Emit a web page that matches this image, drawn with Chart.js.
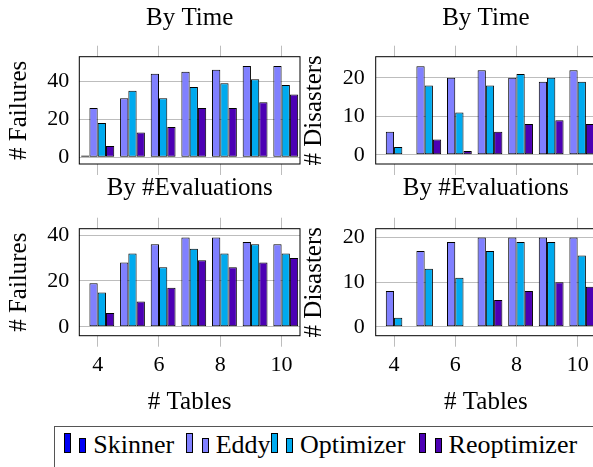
<!DOCTYPE html>
<html>
<head>
<meta charset="utf-8">
<script src="https://cdn.jsdelivr.net/npm/chart.js@4.4.1/dist/chart.umd.min.js"></script>
<style>
html, body { margin: 0; padding: 0; background: #fff; overflow: hidden; }
#wrap { position: relative; width: 593px; height: 467px; overflow: hidden; font-family: "Liberation Serif", serif; }
#wrap canvas { position: absolute; }
#legend { position: absolute; left: 54px; top: 425.7px; width: 600px; height: 60px;
  border-top: 1px solid #555; border-left: 1px solid #555; }
.entry { position: absolute; top: 0.8px; font-size: 26px; line-height: 36px; white-space: nowrap; color: #000; }
.ico { display: inline-block; box-sizing: border-box; width: 7px; border: 1px solid #000; vertical-align: baseline; }
.ico.big { height: 20px; margin-right: 8.3px; }
.ico.small { height: 15.6px; margin-right: 7px; }
</style>
</head>
<body>
<div id="wrap">
  <canvas id="c-tl" width="302" height="180" style="left:0;top:0"></canvas>
  <canvas id="c-tr" width="302" height="180" style="left:296px;top:0"></canvas>
  <canvas id="c-bl" width="302" height="245" style="left:0;top:172px"></canvas>
  <canvas id="c-br" width="302" height="245" style="left:296px;top:172px"></canvas>
  <div id="legend"></div>
</div>
<script>
// data
const TABLES = [4, 5, 6, 7, 8, 9, 10];
const X_TICKS = [4, 6, 8, 10];
const FAIL_TICKS = [0, 20, 40];
const DIS_TICKS = [0, 10, 20];
const SERIES = ['Skinner', 'Eddy', 'Optimizer', 'Reoptimizer'];

// by time, # failures
const TIME_FAIL_SKINNER = [1, 0, 0, 0, 0, 0, 0];
const TIME_FAIL_EDDY    = [26, 31, 44, 45, 46, 48, 48];
const TIME_FAIL_OPT     = [18, 35, 31, 37, 39, 41, 38];
const TIME_FAIL_REOPT   = [6, 13, 16, 26, 26, 29, 33];
// by time, # disasters
const TIME_DIS_SKINNER = [0, 0, 0, 0, 0, 0, 0];
const TIME_DIS_EDDY    = [6, 23, 20, 22, 20, 19, 22];
const TIME_DIS_OPT     = [2, 18, 11, 18, 21, 20, 19];
const TIME_DIS_REOPT   = [0, 4, 1, 6, 8, 9, 8];
// by #evaluations, # failures
const EVAL_FAIL_SKINNER = [0, 0, 0, 0, 0, 0, 0];
const EVAL_FAIL_EDDY    = [19, 28, 36, 39, 39, 37, 36];
const EVAL_FAIL_OPT     = [15, 32, 26, 34, 32, 36, 32];
const EVAL_FAIL_REOPT   = [6, 11, 17, 29, 26, 28, 30];
// by #evaluations, # disasters
const EVAL_DIS_SKINNER = [0, 0, 0, 0, 0, 0, 0];
const EVAL_DIS_EDDY    = [8, 17, 19, 20, 20, 20, 20];
const EVAL_DIS_OPT     = [2, 13, 11, 17, 19, 19, 16];
const EVAL_DIS_REOPT   = [0, 0, 0, 6, 8, 10, 9];

const COLORS = ['#0000f5', '#8080ff', '#00aaee', '#4c00b4'];
const GRID = '#bdbdbd';

Chart.defaults.font.family = '"Liberation Serif", serif';
Chart.defaults.color = '#000';

const frame = {
  id: 'frame',
  afterDatasetsDraw(chart) {
    const { ctx, chartArea: a } = chart;
    ctx.save();
    ctx.strokeStyle = '#000';
    ctx.lineWidth = 1;
    ctx.strokeRect(a.left, a.top, a.right - a.left, a.bottom - a.top);
    ctx.restore();
  }
};

function setTicks(list) {
  return s => { s.ticks = list.map(v => ({ value: v })); };
}

function makeChart(id, c) {
  return new Chart(document.getElementById(id), {
    type: 'bar',
    data: {
      datasets: SERIES.map((name, k) => ({
        label: name,
        data: TABLES.map((t, i) => ({ x: t, y: c.values[k][i] })),
        backgroundColor: COLORS[k],
        borderColor: '#000',
        borderWidth: 1,
        borderSkipped: false,
        inflateAmount: 0,
        categoryPercentage: 1.08,
        barPercentage: 1.0,
      }))
    },
    options: {
      responsive: false,
      animation: false,
      devicePixelRatio: 1,
      layout: { padding: { left: 0, right: 2, top: 0, bottom: 0 } },
      plugins: {
        legend: { display: false },
        tooltip: { enabled: false },
        title: { display: true, text: c.title, fullSize: false, color: '#000',
                 font: { size: 25, weight: 'normal' }, padding: { top: c.titlePad, bottom: 0 } }
      },
      scales: {
        x: {
          type: 'linear', position: 'bottom', min: 3.4, max: 10.6, offset: false,
          afterBuildTicks: setTicks(X_TICKS),
          afterFit: s => { s.height = c.bottomH; s.paddingLeft = 0; s.paddingRight = 0; },
          grid: { drawOnChartArea: false, drawTicks: true, tickLength: 11, color: GRID, offset: false },
          border: { display: false },
          ticks: { display: c.showX, font: { size: 22 }, padding: 5, maxRotation: 0 },
          title: { display: c.showX, text: '# Tables', font: { size: 25 }, padding: { top: 0, bottom: 0 } }
        },
        x2: {
          type: 'linear', position: 'top', min: 3.4, max: 10.6, offset: false,
          afterBuildTicks: setTicks(X_TICKS),
          afterFit: s => { s.height = c.topH; s.paddingLeft = 0; s.paddingRight = 0; },
          grid: { drawOnChartArea: false, drawTicks: true, tickLength: 11, color: GRID, offset: false },
          border: { display: false },
          ticks: { display: false }
        },
        y: {
          min: c.yMin, max: c.yMax,
          afterBuildTicks: setTicks(c.yTicks),
          afterFit: s => { s.width = c.yW; s.paddingTop = 0; s.paddingBottom = 0; },
          grid: { drawTicks: false, color: GRID },
          border: { display: false },
          ticks: { font: { size: 22 }, padding: c.yTickPad },
          title: { display: true, text: c.yLabel, font: { size: 25 }, padding: { top: c.yTitlePad, bottom: 0 } }
        }
      }
    },
    plugins: [frame]
  });
}

const TOP = { title: 'By Time', titlePad: 3.3, topH: 23.4, bottomH: 16, showX: false };
const BOT = { title: 'By #Evaluations', titlePad: 1.3, topH: 25.4, bottomH: 81.3, showX: true };
const LEFT = { yW: 79.3, yTickPad: 10, yTitlePad: 4.9, yLabel: '# Failures', yTicks: FAIL_TICKS };
const RIGHT = { yW: 79.7, yTickPad: 11, yTitlePad: 3.9, yLabel: '# Disasters', yTicks: DIS_TICKS };

makeChart('c-tl', Object.assign({}, TOP, LEFT, { yMin: -3.5, yMax: 52.9,
  values: [TIME_FAIL_SKINNER, TIME_FAIL_EDDY, TIME_FAIL_OPT, TIME_FAIL_REOPT] }));
makeChart('c-tr', Object.assign({}, TOP, RIGHT, { yMin: -2.4, yMax: 25.5,
  values: [TIME_DIS_SKINNER, TIME_DIS_EDDY, TIME_DIS_OPT, TIME_DIS_REOPT] }));
makeChart('c-bl', Object.assign({}, BOT, LEFT, { yMin: -3.9, yMax: 42.8,
  values: [EVAL_FAIL_SKINNER, EVAL_FAIL_EDDY, EVAL_FAIL_OPT, EVAL_FAIL_REOPT] }));
makeChart('c-br', Object.assign({}, BOT, RIGHT, { yMin: -2.0, yMax: 22.0,
  values: [EVAL_DIS_SKINNER, EVAL_DIS_EDDY, EVAL_DIS_OPT, EVAL_DIS_REOPT] }));

// legend: two bar icons per series, like the pgfplots ybar legend
const LEGEND_X = [9, 131.4, 215.6, 364.3];
const legend = document.getElementById('legend');
SERIES.forEach((name, k) => {
  const e = document.createElement('div');
  e.className = 'entry';
  e.style.left = LEGEND_X[k] + 'px';
  e.innerHTML = `<span class="ico big" style="background:${COLORS[k]}"></span>` +
                `<span class="ico small" style="background:${COLORS[k]}"></span>${name}`;
  legend.appendChild(e);
});
</script>
</body>
</html>
